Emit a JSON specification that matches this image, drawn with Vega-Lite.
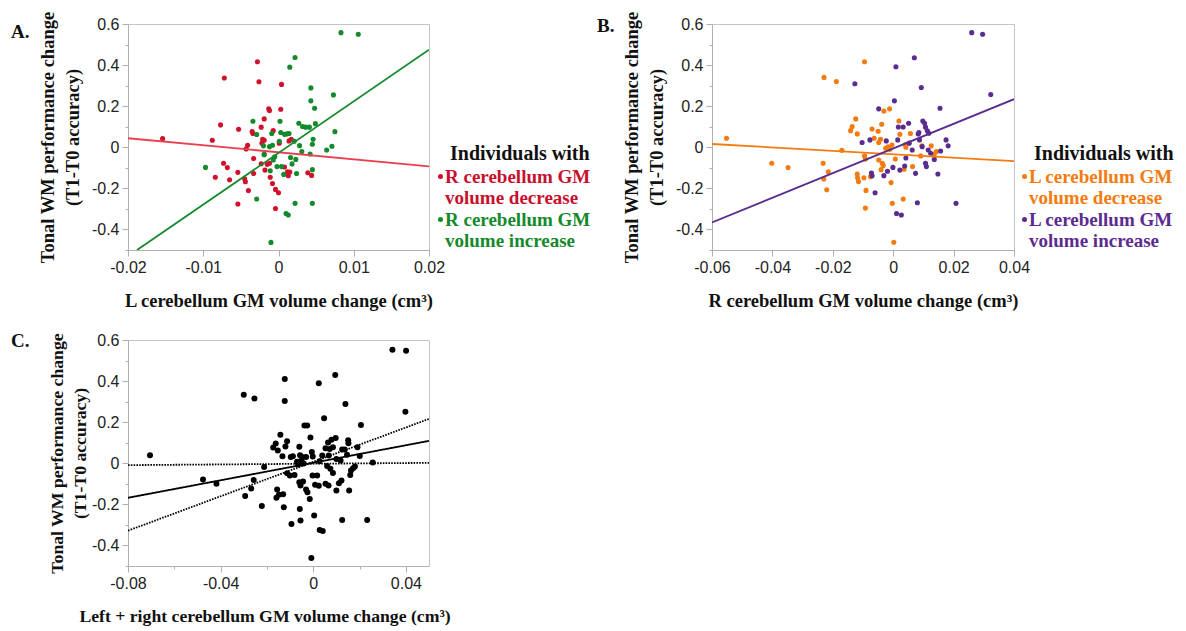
{
"$schema": "https://vega.github.io/schema/vega-lite/v6.json",
"padding": {"left": 10, "top": 10, "right": 5, "bottom": 5},
"datasets": {
"a_pts": [
{"x":-0.0154,"y":0.042,"g":"dec"},{"x":-0.0088,"y":0.034,"g":"dec"},{"x":-0.0077,"y":0.109,"g":"dec"},{"x":-0.0072,"y":0.337,"g":"dec"},{"x":-0.0073,"y":-0.078,"g":"dec"},{"x":-0.0084,"y":-0.146,"g":"dec"},{"x":-0.0068,"y":-0.099,"g":"dec"},{"x":-0.0065,"y":-0.158,"g":"dec"},{"x":-0.0053,"y":0.088,"g":"dec"},{"x":-0.0054,"y":-0.122,"g":"dec"},{"x":-0.0054,"y":-0.276,"g":"dec"},{"x":-0.0045,"y":-0.153,"g":"dec"},{"x":-0.0044,"y":-0.168,"g":"dec"},{"x":-0.0043,"y":-0.008,"g":"dec"},{"x":-0.0041,"y":0.010,"g":"dec"},{"x":-0.0040,"y":-0.211,"g":"dec"},{"x":-0.0034,"y":0.067,"g":"dec"},{"x":-0.0035,"y":0.076,"g":"dec"},{"x":-0.0033,"y":-0.128,"g":"dec"},{"x":-0.0033,"y":-0.055,"g":"dec"},{"x":-0.0028,"y":0.416,"g":"dec"},{"x":-0.0026,"y":0.319,"g":"dec"},{"x":-0.0023,"y":0.098,"g":"dec"},{"x":-0.0022,"y":0.020,"g":"dec"},{"x":-0.0021,"y":0.039,"g":"dec"},{"x":-0.0023,"y":-0.080,"g":"dec"},{"x":-0.0019,"y":0.138,"g":"dec"},{"x":-0.0019,"y":0.034,"g":"dec"},{"x":-0.0018,"y":-0.111,"g":"dec"},{"x":-0.0019,"y":-0.034,"g":"dec"},{"x":-0.0015,"y":-0.083,"g":"dec"},{"x":-0.0013,"y":0.187,"g":"dec"},{"x":-0.0012,"y":0.179,"g":"dec"},{"x":-0.0012,"y":-0.078,"g":"dec"},{"x":-0.0011,"y":-0.146,"g":"dec"},{"x":-0.0008,"y":-0.176,"g":"dec"},{"x":-0.0007,"y":0.081,"g":"dec"},{"x":-0.0004,"y":-0.205,"g":"dec"},{"x":-0.0004,"y":-0.298,"g":"dec"},{"x":0.0,"y":-0.221,"g":"dec"},{"x":0.0001,"y":0.020,"g":"dec"},{"x":0.0003,"y":0.185,"g":"dec"},{"x":0.0004,"y":0.306,"g":"dec"},{"x":0.0008,"y":-0.096,"g":"dec"},{"x":0.0012,"y":-0.119,"g":"dec"},{"x":0.0014,"y":0.031,"g":"dec"},{"x":0.0013,"y":-0.138,"g":"dec"},{"x":0.0015,"y":-0.120,"g":"dec"},{"x":0.0017,"y":0.039,"g":"dec"},{"x":0.0039,"y":-0.124,"g":"dec"},{"x":0.0044,"y":-0.137,"g":"dec"},
{"x":-0.0097,"y":-0.098,"g":"inc"},{"x":-0.0034,"y":0.127,"g":"inc"},{"x":-0.0029,"y":0.062,"g":"inc"},{"x":-0.0029,"y":-0.252,"g":"inc"},{"x":-0.0020,"y":0.007,"g":"inc"},{"x":-0.0019,"y":-0.036,"g":"inc"},{"x":-0.0012,"y":0.003,"g":"inc"},{"x":-0.0011,"y":-0.114,"g":"inc"},{"x":-0.0010,"y":-0.463,"g":"inc"},{"x":-0.0009,"y":0.067,"g":"inc"},{"x":-0.0008,"y":0.010,"g":"inc"},{"x":-0.0007,"y":-0.062,"g":"inc"},{"x":-0.0005,"y":-0.046,"g":"inc"},{"x":-0.0002,"y":-0.094,"g":"inc"},{"x":0.0001,"y":0.029,"g":"inc"},{"x":0.0002,"y":0.127,"g":"inc"},{"x":0.0003,"y":0.072,"g":"inc"},{"x":0.0004,"y":-0.094,"g":"inc"},{"x":0.0007,"y":-0.132,"g":"inc"},{"x":0.0008,"y":0.063,"g":"inc"},{"x":0.0011,"y":0.065,"g":"inc"},{"x":0.0014,"y":0.067,"g":"inc"},{"x":0.0010,"y":-0.322,"g":"inc"},{"x":0.0013,"y":-0.330,"g":"inc"},{"x":0.0015,"y":0.390,"g":"inc"},{"x":0.0016,"y":-0.050,"g":"inc"},{"x":0.0018,"y":-0.081,"g":"inc"},{"x":0.0022,"y":0.437,"g":"inc"},{"x":0.0021,"y":0.029,"g":"inc"},{"x":0.0023,"y":-0.059,"g":"inc"},{"x":0.0024,"y":-0.128,"g":"inc"},{"x":0.0022,"y":-0.273,"g":"inc"},{"x":0.0027,"y":0.117,"g":"inc"},{"x":0.0028,"y":0.008,"g":"inc"},{"x":0.0031,"y":-0.021,"g":"inc"},{"x":0.0032,"y":0.101,"g":"inc"},{"x":0.0036,"y":0.098,"g":"inc"},{"x":0.0041,"y":0.098,"g":"inc"},{"x":0.0042,"y":-0.033,"g":"inc"},{"x":0.0043,"y":0.289,"g":"inc"},{"x":0.0043,"y":0.226,"g":"inc"},{"x":0.0045,"y":0.015,"g":"inc"},{"x":0.0045,"y":-0.109,"g":"inc"},{"x":0.0045,"y":-0.273,"g":"inc"},{"x":0.0046,"y":0.039,"g":"inc"},{"x":0.0048,"y":0.190,"g":"inc"},{"x":0.0049,"y":0.115,"g":"inc"},{"x":0.0064,"y":-0.013,"g":"inc"},{"x":0.0071,"y":0.005,"g":"inc"},{"x":0.0073,"y":0.255,"g":"inc"},{"x":0.0075,"y":0.076,"g":"inc"},{"x":0.0083,"y":0.558,"g":"inc"},{"x":0.0106,"y":0.550,"g":"inc"}
],
"a_lines": [
{"x":-0.02,"y":0.044,"s":"dec"},{"x":0.02,"y":-0.093,"s":"dec"},
{"x":-0.0188,"y":-0.5,"s":"inc"},{"x":0.02,"y":0.475,"s":"inc"}
],
"b_pts": [
{"x":-0.0552,"y":0.044,"g":"dec"},{"x":-0.0402,"y":-0.078,"g":"dec"},{"x":-0.0348,"y":-0.099,"g":"dec"},{"x":-0.0232,"y":-0.078,"g":"dec"},{"x":-0.0229,"y":0.340,"g":"dec"},{"x":-0.0230,"y":-0.154,"g":"dec"},{"x":-0.0215,"y":-0.119,"g":"dec"},{"x":-0.0220,"y":-0.207,"g":"dec"},{"x":-0.0188,"y":0.320,"g":"dec"},{"x":-0.0170,"y":-0.015,"g":"dec"},{"x":-0.0141,"y":0.081,"g":"dec"},{"x":-0.0136,"y":0.101,"g":"dec"},{"x":-0.0124,"y":0.138,"g":"dec"},{"x":-0.0119,"y":0.065,"g":"dec"},{"x":-0.0119,"y":-0.130,"g":"dec"},{"x":-0.0118,"y":-0.148,"g":"dec"},{"x":-0.0115,"y":-0.166,"g":"dec"},{"x":-0.0095,"y":0.416,"g":"dec"},{"x":-0.0095,"y":-0.042,"g":"dec"},{"x":-0.0092,"y":-0.057,"g":"dec"},{"x":-0.0097,"y":-0.148,"g":"dec"},{"x":-0.0090,"y":-0.210,"g":"dec"},{"x":-0.0092,"y":-0.296,"g":"dec"},{"x":-0.0075,"y":-0.143,"g":"dec"},{"x":-0.0070,"y":0.089,"g":"dec"},{"x":-0.0063,"y":0.044,"g":"dec"},{"x":-0.0050,"y":0.078,"g":"dec"},{"x":-0.0048,"y":0.023,"g":"dec"},{"x":-0.0048,"y":-0.062,"g":"dec"},{"x":-0.0042,"y":0.039,"g":"dec"},{"x":-0.0040,"y":-0.109,"g":"dec"},{"x":-0.0038,"y":0.112,"g":"dec"},{"x":-0.0036,"y":-0.078,"g":"dec"},{"x":-0.0033,"y":-0.089,"g":"dec"},{"x":-0.0031,"y":0.176,"g":"dec"},{"x":-0.0025,"y":-0.005,"g":"dec"},{"x":-0.0017,"y":0.002,"g":"dec"},{"x":-0.0012,"y":0.187,"g":"dec"},{"x":-0.0011,"y":-0.010,"g":"dec"},{"x":-0.0007,"y":-0.172,"g":"dec"},{"x":-0.0004,"y":0.011,"g":"dec"},{"x":-0.0003,"y":-0.273,"g":"dec"},{"x":0.0002,"y":-0.462,"g":"dec"},{"x":0.0007,"y":-0.057,"g":"dec"},{"x":0.0019,"y":0.128,"g":"dec"},{"x":0.0022,"y":0.063,"g":"dec"},{"x":0.0033,"y":-0.252,"g":"dec"},{"x":0.0036,"y":-0.107,"g":"dec"},{"x":0.0040,"y":0.013,"g":"dec"},{"x":0.0042,"y":0.0,"g":"dec"},{"x":0.0057,"y":0.067,"g":"dec"},{"x":0.0064,"y":-0.094,"g":"dec"},{"x":0.0091,"y":-0.042,"g":"dec"},{"x":0.0095,"y":0.007,"g":"dec"},{"x":0.0126,"y":0.007,"g":"dec"},{"x":0.0136,"y":-0.033,"g":"dec"},{"x":0.0143,"y":-0.021,"g":"dec"},
{"x":-0.0127,"y":0.309,"g":"inc"},{"x":-0.0103,"y":0.023,"g":"inc"},{"x":-0.0077,"y":0.036,"g":"inc"},{"x":-0.0072,"y":-0.125,"g":"inc"},{"x":-0.0070,"y":-0.138,"g":"inc"},{"x":-0.0060,"y":-0.221,"g":"inc"},{"x":-0.0048,"y":0.187,"g":"inc"},{"x":-0.0031,"y":-0.138,"g":"inc"},{"x":-0.0023,"y":0.031,"g":"inc"},{"x":-0.0019,"y":-0.117,"g":"inc"},{"x":-0.0001,"y":-0.098,"g":"inc"},{"x":0.0004,"y":0.226,"g":"inc"},{"x":0.0009,"y":0.392,"g":"inc"},{"x":0.0011,"y":-0.322,"g":"inc"},{"x":0.0027,"y":-0.330,"g":"inc"},{"x":0.0015,"y":0.036,"g":"inc"},{"x":0.0017,"y":0.099,"g":"inc"},{"x":0.0022,"y":-0.111,"g":"inc"},{"x":0.0033,"y":0.099,"g":"inc"},{"x":0.0038,"y":-0.091,"g":"inc"},{"x":0.0042,"y":-0.052,"g":"inc"},{"x":0.0051,"y":0.117,"g":"inc"},{"x":0.0053,"y":0.020,"g":"inc"},{"x":0.0063,"y":-0.013,"g":"inc"},{"x":0.0070,"y":0.436,"g":"inc"},{"x":0.0074,"y":-0.127,"g":"inc"},{"x":0.0080,"y":-0.270,"g":"inc"},{"x":0.0083,"y":0.065,"g":"inc"},{"x":0.0085,"y":0.072,"g":"inc"},{"x":0.0087,"y":0.036,"g":"inc"},{"x":0.0093,"y":0.291,"g":"inc"},{"x":0.0096,"y":0.003,"g":"inc"},{"x":0.0098,"y":0.128,"g":"inc"},{"x":0.0104,"y":0.117,"g":"inc"},{"x":0.0107,"y":0.098,"g":"inc"},{"x":0.0107,"y":-0.078,"g":"inc"},{"x":0.0110,"y":-0.094,"g":"inc"},{"x":0.0113,"y":0.080,"g":"inc"},{"x":0.0116,"y":-0.013,"g":"inc"},{"x":0.0118,"y":0.068,"g":"inc"},{"x":0.0124,"y":-0.029,"g":"inc"},{"x":0.0136,"y":-0.059,"g":"inc"},{"x":0.0148,"y":-0.130,"g":"inc"},{"x":0.0155,"y":0.190,"g":"inc"},{"x":0.0157,"y":-0.018,"g":"inc"},{"x":0.0175,"y":0.036,"g":"inc"},{"x":0.0182,"y":0.007,"g":"inc"},{"x":0.0208,"y":-0.273,"g":"inc"},{"x":0.0260,"y":0.558,"g":"inc"},{"x":0.0296,"y":0.550,"g":"inc"},{"x":0.0323,"y":0.257,"g":"inc"}
],
"b_lines": [
{"x":-0.06,"y":0.016,"s":"dec"},{"x":0.04,"y":-0.067,"s":"dec"},
{"x":-0.06,"y":-0.366,"s":"inc"},{"x":0.04,"y":0.234,"s":"inc"}
],
"c_pts": [
{"x":-0.0705,"y":0.039},{"x":-0.0476,"y":-0.079},{"x":-0.0418,"y":-0.100},{"x":-0.0300,"y":0.334},{"x":-0.0294,"y":-0.159},{"x":-0.0268,"y":-0.123},{"x":-0.0257,"y":-0.082},{"x":-0.0254,"y":0.315},{"x":-0.0222,"y":-0.208},{"x":-0.0212,"y":-0.018},{"x":-0.0173,"y":0.077},{"x":-0.0162,"y":0.096},{"x":-0.0153,"y":0.062},{"x":-0.0156,"y":-0.128},{"x":-0.0159,"y":-0.168},{"x":-0.0148,"y":-0.153},{"x":-0.0142,"y":0.139},{"x":-0.0133,"y":0.034},{"x":-0.0130,"y":-0.151},{"x":-0.0127,"y":-0.214},{"x":-0.0123,"y":0.410},{"x":-0.0123,"y":0.303},{"x":-0.0120,"y":0.082},{"x":-0.0113,"y":0.107},{"x":-0.0113,"y":-0.048},{"x":-0.0101,"y":-0.060},{"x":-0.0097,"y":0.030},{"x":-0.0094,"y":-0.296},{"x":-0.0088,"y":0.034},{"x":-0.0081,"y":-0.057},{"x":-0.0070,"y":0.007},{"x":-0.0065,"y":-0.006},{"x":-0.0060,"y":0.080},{"x":-0.0057,"y":0.039},{"x":-0.0060,"y":-0.092},{"x":-0.0055,"y":-0.108},{"x":-0.0058,"y":-0.222},{"x":-0.0055,"y":-0.279},{"x":-0.0051,"y":0.013},{"x":-0.0047,"y":0.030},{"x":-0.0044,"y":-0.089},{"x":-0.0041,"y":-0.001},{"x":-0.0038,"y":0.184},{"x":-0.0026,"y":0.184},{"x":-0.0031,"y":0.031},{"x":-0.0031,"y":-0.128},{"x":-0.0025,"y":-0.141},{"x":-0.0015,"y":-0.174},{"x":-0.0012,"y":0.125},{"x":-0.0006,"y":0.055},{"x":-0.0003,"y":-0.060},{"x":-0.0002,"y":0.033},{"x":-0.0008,"y":-0.461},{"x":0.0004,"y":-0.254},{"x":0.0008,"y":-0.104},{"x":0.0024,"y":0.390},{"x":0.0024,"y":-0.110},{"x":0.0027,"y":0.010},{"x":0.0028,"y":-0.325},{"x":0.0041,"y":-0.330},{"x":0.0047,"y":0.219},{"x":0.0053,"y":0.073},{"x":0.0053,"y":-0.100},{"x":0.0060,"y":-0.013},{"x":0.0064,"y":0.101},{"x":0.0066,"y":-0.108},{"x":0.0071,"y":0.070},{"x":0.0079,"y":0.114},{"x":0.0085,"y":0.078},{"x":0.0085,"y":-0.047},{"x":0.0095,"y":0.430},{"x":0.0097,"y":0.123},{"x":0.0100,"y":0.021},{"x":0.0100,"y":-0.133},{"x":0.0111,"y":-0.097},{"x":0.0118,"y":0.013},{"x":0.0122,"y":-0.084},{"x":0.0125,"y":0.067},{"x":0.0125,"y":-0.276},{"x":0.0136,"y":0.067},{"x":0.0139,"y":0.289},{"x":0.0151,"y":0.112},{"x":0.0152,"y":0.097},{"x":0.0155,"y":-0.133},{"x":0.0160,"y":-0.057},{"x":0.0180,"y":-0.016},{"x":0.0191,"y":0.078},{"x":0.0201,"y":0.036},{"x":0.0206,"y":0.186},{"x":0.0233,"y":-0.276},{"x":0.0257,"y":0.004},{"x":0.0342,"y":0.553},{"x":0.0401,"y":0.548},{"x":0.0398,"y":0.251},{"x":0.0146,"y":0.041},{"x":0.0163,"y":-0.035},{"x":0.0172,"y":-0.024},{"x":0.0074,"y":-0.027},{"x":0.0067,"y":0.038},{"x":0.0039,"y":0.038},{"x":0.0017,"y":-0.060}
],
"c_lines": [
{"x":-0.08,"y":-0.168,"s":"fit"},{"x":0.05,"y":0.109,"s":"fit"},
{"x":-0.08,"y":-0.009,"s":"lo"},{"x":0.05,"y":0.002,"s":"lo"},
{"x":-0.08,"y":-0.328,"s":"hi"},{"x":0.05,"y":0.216,"s":"hi"}
]
},
"vconcat": [
{
"hconcat": [
{
"width": 301, "height": 226,
"title": {"text": "A.", "dx": -117, "dy": 35},
"layer": [
{"data": {"name": "a_pts"}, "mark": {"type": "circle", "size": 26, "opacity": 1},
"encoding": {
"x": {"field": "x", "type": "quantitative", "scale": {"domain": [-0.02, 0.02], "nice": false, "zero": false},
"axis": {"title": "L cerebellum GM volume change (cm³)", "labelOverlap": false, "values": [-0.02,-0.015,-0.01,-0.005,0,0.005,0.01,0.015,0.02],
"labelExpr": "abs(datum.value*100 - round(datum.value*100)) < 1e-6 ? '' + datum.value : ''",
"tickSize": {"condition": {"test": "abs(datum.value*100 - round(datum.value*100)) < 1e-6", "value": 6}, "value": 3}}},
"y": {"field": "y", "type": "quantitative", "scale": {"domain": [-0.5, 0.6], "nice": false, "zero": false},
"axis": {"title": ["Tonal WM performance change", "(T1-T0 accuracy)"], "orient": "left", "values": [-0.4,-0.2,0,0.2,0.4,0.6], "labelExpr": "'' + datum.value", "tickSize": 6}},
"color": {"field": "g", "type": "nominal", "scale": {"domain": ["dec", "inc"], "range": ["#d0112b", "#138a2c"]},
"legend": {"title": "Individuals with", "labelExpr": "datum.value == 'dec' ? ['R cerebellum GM', 'volume decrease'] : ['R cerebellum GM', 'volume increase']",
"labelColor": {"expr": "datum.value == 'dec' ? '#c8102e' : '#15892c'"}}}
}},
{"data": {"name": "a_lines"}, "mark": {"type": "line", "strokeWidth": 1.8, "clip": true},
"encoding": {
"x": {"field": "x", "type": "quantitative"},
"y": {"field": "y", "type": "quantitative", "axis": {"title": null, "orient": "left", "values": [-0.5,-0.3,-0.1,0.1,0.3,0.5], "labels": false, "domain": false, "tickSize": 3}},
"stroke": {"field": "s", "type": "nominal", "scale": {"domain": ["dec", "inc"], "range": ["#e8404f", "#138a2c"]}, "legend": null}
}}
],
"resolve": {"axis": {"y": "independent"}}
},
{
"width": 302, "height": 226,
"title": {"text": "B.", "dx": -115, "dy": 29},
"layer": [
{"data": {"name": "b_pts"}, "mark": {"type": "circle", "size": 26, "opacity": 1},
"encoding": {
"x": {"field": "x", "type": "quantitative", "scale": {"domain": [-0.06, 0.04], "nice": false, "zero": false},
"axis": {"title": "R cerebellum GM volume change (cm³)", "labelOverlap": false, "values": [-0.06,-0.05,-0.04,-0.03,-0.02,-0.01,0,0.01,0.02,0.03,0.04],
"labelExpr": "abs(datum.value*50 - round(datum.value*50)) < 1e-6 ? '' + datum.value : ''",
"tickSize": {"condition": {"test": "abs(datum.value*50 - round(datum.value*50)) < 1e-6", "value": 6}, "value": 3}}},
"y": {"field": "y", "type": "quantitative", "scale": {"domain": [-0.5, 0.6], "nice": false, "zero": false},
"axis": {"title": ["Tonal WM performance change", "(T1-T0 accuracy)"], "orient": "left", "values": [-0.4,-0.2,0,0.2,0.4,0.6], "labelExpr": "'' + datum.value", "tickSize": 6}},
"color": {"field": "g", "type": "nominal", "scale": {"domain": ["dec", "inc"], "range": ["#f47b0e", "#5b2c8f"]},
"legend": {"title": "Individuals with", "labelExpr": "datum.value == 'dec' ? ['L cerebellum GM', 'volume decrease'] : ['L cerebellum GM', 'volume increase']",
"labelColor": {"expr": "datum.value == 'dec' ? '#f47b0e' : '#5b2c8f'"}}}
}},
{"data": {"name": "b_lines"}, "mark": {"type": "line", "strokeWidth": 1.8, "clip": true},
"encoding": {
"x": {"field": "x", "type": "quantitative"},
"y": {"field": "y", "type": "quantitative", "axis": {"title": null, "orient": "left", "values": [-0.5,-0.3,-0.1,0.1,0.3,0.5], "labels": false, "domain": false, "tickSize": 3}},
"stroke": {"field": "s", "type": "nominal", "scale": {"domain": ["dec", "inc"], "range": ["#f47b0e", "#5b2c8f"]}, "legend": null}
}}
],
"resolve": {"axis": {"y": "independent"}}
}
],
"spacing": 4,
"resolve": {"scale": {"color": "independent", "stroke": "independent", "x": "independent", "y": "independent"}, "legend": {"color": "independent"}}
},
{
"width": 301, "height": 226,
"title": {"text": "C.", "dx": -117, "dy": 23},
"layer": [
{"data": {"name": "c_pts"}, "mark": {"type": "circle", "size": 36, "opacity": 1, "color": "#000000"},
"encoding": {
"x": {"field": "x", "type": "quantitative", "scale": {"domain": [-0.08, 0.05], "nice": false, "zero": false},
"axis": {"title": "Left + right cerebellum GM volume change (cm³)", "titleFontSize": 17.7, "titleX": 136.5, "labelOverlap": false, "values": [-0.08,-0.07,-0.06,-0.05,-0.04,-0.03,-0.02,-0.01,0,0.01,0.02,0.03,0.04,0.05],
"labelExpr": "abs(datum.value*25 - round(datum.value*25)) < 1e-6 ? '' + datum.value : ''",
"tickSize": {"condition": {"test": "abs(datum.value*25 - round(datum.value*25)) < 1e-6", "value": 6}, "value": 3}}},
"y": {"field": "y", "type": "quantitative", "scale": {"domain": [-0.5, 0.6], "nice": false, "zero": false},
"axis": {"title": ["Tonal WM performance change", "(T1-T0 accuracy)"], "titleFontSize": 17.7, "titleLineHeight": 23, "titlePadding": 2, "orient": "left", "values": [-0.4,-0.2,0,0.2,0.4,0.6], "labelExpr": "'' + datum.value", "tickSize": 6}}
}},
{"data": {"name": "c_lines"}, "mark": {"type": "line", "strokeWidth": 1.8, "color": "#000000", "clip": true},
"encoding": {
"x": {"field": "x", "type": "quantitative"},
"y": {"field": "y", "type": "quantitative", "axis": {"title": null, "orient": "left", "values": [-0.5,-0.3,-0.1,0.1,0.3,0.5], "labels": false, "domain": false, "tickSize": 3}},
"detail": {"field": "s", "type": "nominal"},
"strokeDash": {"field": "s", "type": "nominal", "scale": {"domain": ["fit", "lo", "hi"], "range": [[1, 0], [1.6, 1.2], [1.6, 1.2]]}, "legend": null}
}}
],
"resolve": {"axis": {"y": "independent"}}
}
],
"spacing": 21,
"config": {
"view": {"stroke": "#c4c4c4", "strokeWidth": 1},
"axis": {"grid": false, "domainColor": "#b0b0b0", "tickColor": "#b0b0b0", "labelFont": "Liberation Sans", "labelFontSize": 16, "labelColor": "#222222", "titleFont": "Liberation Serif", "titleFontSize": 18.5, "titleFontWeight": "bold", "titleColor": "#111111", "labelFlush": false, "labelOverlap": false, "labelPadding": 3},
"axisX": {"titlePadding": 16},
"axisY": {"titlePadding": 9, "titleLineHeight": 25},
"title": {"font": "Liberation Serif", "fontSize": 19, "fontWeight": "bold", "color": "#111111", "anchor": "start", "frame": "group", "offset": 0, "baseline": "alphabetic"},
"legend": {"orient": "none", "legendX": 322, "legendY": 120, "titleFont": "Liberation Serif", "titleFontSize": 20, "titleFontWeight": "bold", "titleColor": "#111111", "titlePadding": 3, "labelFont": "Liberation Serif", "labelFontSize": 19, "labelFontWeight": "bold", "symbolType": "circle", "symbolSize": 25, "symbolStrokeWidth": 0, "symbolOffset": -19, "labelOffset": -5, "rowPadding": 2, "padding": 0, "labelLimit": 300}
}
}
